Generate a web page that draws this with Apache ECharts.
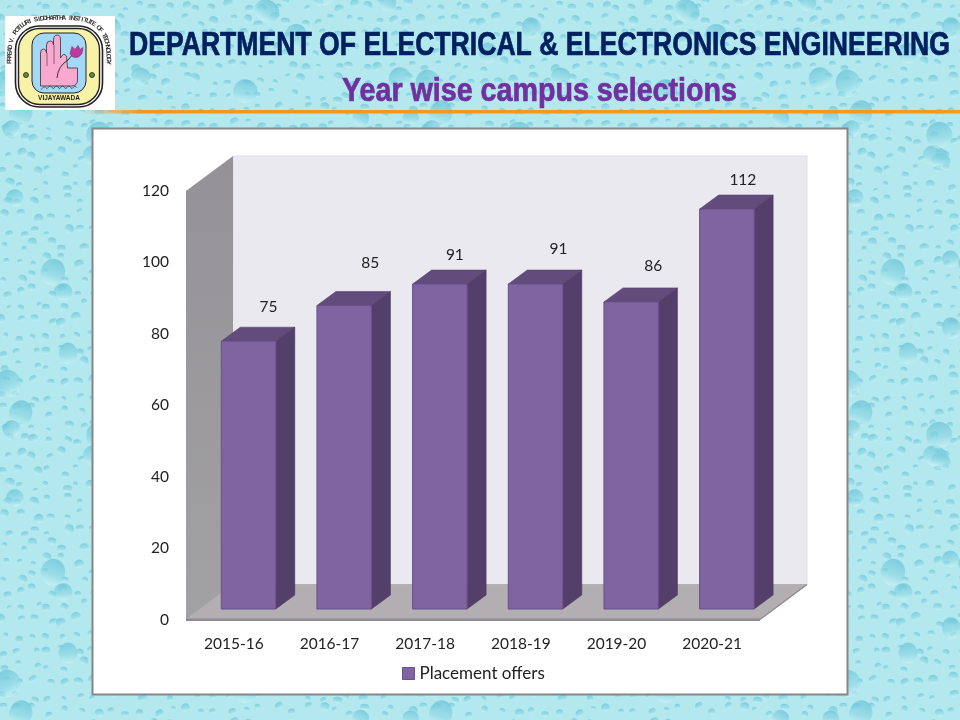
<!DOCTYPE html>
<html style="height: 100%">

<head>
    <meta charset="utf-8">
</head>

<body style="height: 100%; margin: 0">
    <div id="container" style="width: 960px; height: 720px"></div>
    <script type="text/javascript" src="https://cdn.jsdelivr.net/npm/echarts@6/dist/echarts.min.js"></script>

    <script type="text/javascript">
        var years = ['2015-16', '2016-17', '2017-18', '2018-19', '2019-20', '2020-21'];
        var offers = [75, 85, 91, 91, 86, 112];
        var seriesName = 'Placement offers';
        var heading = 'DEPARTMENT OF ELECTRICAL & ELECTRONICS ENGINEERING';
        var subheading = 'Year wise campus selections';
        var ringText = 'PRASAD V. POTLURI SIDDHARTHA INSTITUTE OF TECHNOLOGY';

        // the labels float unevenly above the bars in the original: [dx, dy] from the bar's front top
        var labelNudge = [[20, -34], [26, -42], [15, -29], [23, -35], [22, -36], [16, -29]];

        var FONT = 'Lato, sans-serif';
        var HEAD_FONT = '"Liberation Sans Narrow", "Liberation Sans", sans-serif';
        var WALL_DX = 47, WALL_DY = -35;   // how far the back wall sits behind the axis plane
        var BAR_DX = 14.7, BAR_DY = -10.5; // bar front inset from the axis plane
        var DEPTH_DX = 19, DEPTH_DY = -14; // bar depth
        var BAR_W = 54.5;

        // water drop texture for the slide background
        function dropTile() {
            var c = document.createElement('canvas');
            c.width = 420; c.height = 300;
            var ctx = c.getContext('2d');
            ctx.fillStyle = '#b3e8ee';
            ctx.fillRect(0, 0, c.width, c.height);
            function h(n) { var s = Math.sin(n * 12.9898) * 43758.5453; return s - Math.floor(s); }
            function drop(x, y, r, ratio, tilt) {
                [-c.width, 0, c.width].forEach(function (ox) {
                    [-c.height, 0, c.height].forEach(function (oy) {
                        ctx.save();
                        ctx.translate(x + ox, y + oy);
                        ctx.rotate(tilt);
                        ctx.scale(1, ratio);
                        var g = ctx.createLinearGradient(0, -r, 0, r);
                        g.addColorStop(0, 'rgba(105,195,215,0.75)');
                        g.addColorStop(0.6, 'rgba(135,212,226,0.55)');
                        g.addColorStop(1, 'rgba(215,247,248,0.5)');
                        ctx.fillStyle = g;
                        ctx.beginPath();
                        ctx.arc(0, 0, r, 0, Math.PI * 2);
                        ctx.fill();
                        ctx.restore();
                    });
                });
            }
            var n = 0;
            for (var gx = 0; gx < c.width; gx += 15) {
                for (var gy = 0; gy < c.height; gy += 15) {
                    n++;
                    drop(gx + h(n) * 10, gy + h(n + 3000) * 10, 2.5 + h(n + 6000) * 2.5, 0.65 + h(n + 8000) * 0.3, h(n + 9000) - 0.5);
                }
            }
            for (var i = 0; i < 34; i++) {
                drop(h(i + 11000) * c.width, h(i + 12000) * c.height, 8 + h(i + 13000) * 6, 0.8 + h(i + 14000) * 0.35, h(i + 15000) * 1.2 - 0.6);
            }
            return c;
        }

        // squeeze or stretch a headline so it spans the same width as the original
        function fitText(text, font, width) {
            var ctx = document.createElement('canvas').getContext('2d');
            ctx.font = font;
            return width / ctx.measureText(text).width;
        }

        function ringLetters() {
            // letters run round a squarish ring, left side up, over the top, right side down
            var cx = 59, cy = 64, a = 49.5, b = 46, p = 3;
            var pts = [], len = [0];
            for (var k = 0; k <= 600; k++) {
                var t = Math.PI * (1.0 + k / 600);
                var co = Math.cos(t), si = Math.sin(t);
                pts.push([
                    cx + a * (co < 0 ? -1 : 1) * Math.pow(Math.abs(co), 2 / p),
                    cy + b * (si < 0 ? -1 : 1) * Math.pow(Math.abs(si), 2 / p)
                ]);
                if (k > 0) {
                    len.push(len[k - 1] + Math.hypot(pts[k][0] - pts[k - 1][0], pts[k][1] - pts[k - 1][1]));
                }
            }
            var out = [], n = ringText.length, j = 1;
            for (var i = 0; i < n; i++) {
                var want = len[600] * (i + 0.5) / n;
                while (j < 600 && len[j] < want) { j++; }
                out.push({
                    type: 'text', x: pts[j][0], y: pts[j][1],
                    rotation: -Math.atan2(pts[j + 0][1] - pts[j - 1][1], pts[j + 0][0] - pts[j - 1][0]),
                    style: {
                        text: ringText[i], fill: '#333', align: 'center', verticalAlign: 'middle',
                        font: 'bold 6.5px "Liberation Sans Narrow", sans-serif'
                    }
                });
            }
            return out;
        }

        function renderLogo() {
            return {
                type: 'group',
                children: [
                    { type: 'rect', shape: { x: 5, y: 16, width: 110, height: 94 }, style: { fill: '#fff' } },
                    { type: 'rect', shape: { x: 15.5, y: 26, width: 87, height: 81, r: 24 }, style: { fill: '#fff', stroke: '#222', lineWidth: 1.6 } },
                    { type: 'rect', shape: { x: 18.5, y: 28.5, width: 81, height: 76, r: 21 }, style: { fill: '#f8f2a8', stroke: '#222', lineWidth: 1.4 } },
                    { type: 'rect', shape: { x: 32, y: 33, width: 54, height: 60, r: 12 }, style: { fill: '#a3d8f6', stroke: '#222', lineWidth: 1 } },
                    {
                        type: 'path',
                        shape: { pathData: 'M41 86 L41 53 Q41 49 44 49 Q47 49 47 53 L47 45 Q47 41 51 41 Q54 41 54 45 L54 40 Q54 35 58 35 Q61 35 61 40 L61 58 Q64 52 67 56 L68 68 L78 68 L78 80 Q78 86 72 86 Z', x: 40, y: 35, width: 38, height: 51 },
                        style: { fill: '#f9a8d0', stroke: '#333', lineWidth: 0.8 }
                    },
                    {
                        type: 'path',
                        shape: { pathData: 'M47 53 L47 66 M54 45 L54 64', x: 47, y: 45, width: 7, height: 21 },
                        style: { fill: 'none', stroke: '#333', lineWidth: 0.6 }
                    },
                    {
                        type: 'path',
                        shape: { pathData: 'M57 78 Q58 66 68 60 L73 54', x: 57, y: 54, width: 16, height: 24 },
                        style: { fill: 'none', stroke: '#222', lineWidth: 0.9 }
                    },
                    {
                        type: 'path',
                        shape: { pathData: 'M70 53 L72 46 L75 49 L78 45 L80 49 L83 47 L82 53 Q79 58 74 57 Q71 56 70 53 Z', x: 70, y: 45, width: 13, height: 13 },
                        style: { fill: '#c23a9e', stroke: '#5a2a5a', lineWidth: 0.5 }
                    },
                    {
                        type: 'path',
                        shape: { pathData: 'M41 90 q3 -5 6 -1 q3 -5 6 0 q3 -5 6 0 q3 -5 6 0 q3 -5 6 0 q3 -4 5 -1', x: 41, y: 85, width: 36, height: 6 },
                        style: { fill: 'none', stroke: '#333', lineWidth: 0.7 }
                    },
                    { type: 'circle', shape: { cx: 26, cy: 75, r: 2.5 }, style: { fill: '#5b8f3a', stroke: '#222', lineWidth: 0.8 } },
                    { type: 'circle', shape: { cx: 92, cy: 75, r: 2.5 }, style: { fill: '#5b8f3a', stroke: '#222', lineWidth: 0.8 } },
                    {
                        type: 'text', x: 59, y: 98,
                        style: { text: 'VIJAYAWADA', fill: '#222', align: 'center', verticalAlign: 'middle', font: 'bold 6.5px "Liberation Sans", sans-serif' }
                    }
                ].concat(ringLetters())
            };
        }

        function headline(text, font, x, y, width, fill) {
            return {
                type: 'text', z: 1, x: x, y: y, scaleX: fitText(text, font, width),
                style: { text: text, font: font, fill: fill, stroke: fill, lineWidth: 0.7, verticalAlign: 'middle' }
            };
        }

        function renderRoom(params, api) {
            var r = params.coordSys;
            var x0 = r.x, x1 = r.x + r.width, top = r.y, base = r.y + r.height;
            return {
                type: 'group',
                children: [
                    {
                        type: 'rect',
                        shape: { x: x0 + WALL_DX, y: top + WALL_DY, width: r.width, height: r.height },
                        style: { fill: '#ebe9f0', stroke: '#e2e0e7', lineWidth: 1 }
                    },
                    {
                        type: 'polygon',
                        shape: { points: [[x0, top], [x0 + WALL_DX, top + WALL_DY], [x0 + WALL_DX, base + WALL_DY], [x0, base]] },
                        style: {
                            fill: new echarts.graphic.LinearGradient(0, 0, 0, 1, [
                                { offset: 0, color: '#949296' }, { offset: 1, color: '#a2a1a3' }
                            ])
                        }
                    },
                    {
                        type: 'polygon',
                        shape: { points: [[x0, base], [x0 + WALL_DX, base + WALL_DY], [x1 + WALL_DX, base + WALL_DY], [x1, base]] },
                        style: { fill: '#b2aeb2', stroke: '#a5a1a5', lineWidth: 0.6 }
                    },
                    {
                        type: 'line',
                        shape: { x1: x1, y1: base, x2: x1 + WALL_DX, y2: base + WALL_DY },
                        style: { stroke: '#8e8a8e', lineWidth: 1.2 }
                    },
                    {
                        type: 'rect',
                        shape: { x: x0, y: base - 1, width: r.width, height: 2.5 },
                        style: { fill: '#8e8a8e' }
                    }
                ]
            };
        }

        function renderBar(params, api) {
            var i = api.value(0), v = api.value(1);
            var topPt = api.coord([i, v]), basePt = api.coord([i, 0]);
            var left = topPt[0] + BAR_DX - BAR_W / 2, right = left + BAR_W;
            var top = topPt[1] + BAR_DY, base = basePt[1] + BAR_DY;
            var nudge = labelNudge[i];
            return {
                type: 'group',
                children: [
                    {
                        type: 'polygon',
                        shape: { points: [[left, top], [left + DEPTH_DX, top + DEPTH_DY], [right + DEPTH_DX, top + DEPTH_DY], [right, top]] },
                        style: { fill: '#624c7c', stroke: '#594472', lineWidth: 0.6 }
                    },
                    {
                        type: 'polygon',
                        shape: { points: [[right, top], [right + DEPTH_DX, top + DEPTH_DY], [right + DEPTH_DX, base + DEPTH_DY], [right, base]] },
                        style: { fill: '#533f69', stroke: '#4f3c64', lineWidth: 0.6 }
                    },
                    {
                        type: 'rect',
                        shape: { x: left, y: top, width: BAR_W, height: base - top },
                        style: { fill: '#8063a1', stroke: '#6a4f8a', lineWidth: 1 }
                    },
                    {
                        type: 'text',
                        x: left + BAR_W / 2 + nudge[0],
                        y: top + nudge[1],
                        style: {
                            text: String(v), fill: '#222', align: 'center', verticalAlign: 'middle',
                            font: '15.5px ' + FONT
                        }
                    }
                ]
            };
        }

        var dom = document.getElementById('container');
        var myChart = echarts.init(dom, null, { width: 960, height: 720 });

        var option = {
            animation: false,
            backgroundColor: { image: dropTile(), repeat: 'repeat' },
            grid: { left: 186, top: 191, width: 574, height: 428.5, containLabel: false },
            legend: {
                data: [{ name: seriesName, icon: 'rect' }],
                left: 402, top: 665, padding: 0, itemWidth: 12, itemHeight: 12, itemStyle: { borderWidth: 1 },
                textStyle: { fontFamily: FONT, fontSize: 17, color: '#222' }
            },
            xAxis: {
                type: 'category', data: years,
                axisLine: { show: false }, axisTick: { show: false }, splitLine: { show: false },
                axisLabel: { margin: 16, fontFamily: FONT, fontSize: 15.5, color: '#222' }
            },
            yAxis: {
                type: 'value', min: 0, max: 120, interval: 20,
                axisLine: { show: false }, axisTick: { show: false }, splitLine: { show: false },
                axisLabel: { margin: 17, fontFamily: FONT, fontSize: 15.5, color: '#222' }
            },
            graphic: {
                elements: [
                    {
                        type: 'rect', z: 0,
                        shape: { x: 0, y: 110, width: 960, height: 3.5 },
                        style: {
                            fill: new echarts.graphic.LinearGradient(0, 0, 1, 0, [
                                { offset: 0.085, color: 'rgba(243,150,30,0)' },
                                { offset: 0.15, color: '#f0981f' },
                                { offset: 1, color: '#f39a1c' }
                            ])
                        }
                    },
                    {
                        type: 'rect', z: 0,
                        shape: { x: 92.5, y: 128.5, width: 755, height: 566 },
                        style: { fill: '#fff', stroke: '#868686', lineWidth: 2 }
                    },
                    headline(heading, 'bold 33px ' + HEAD_FONT, 129, 46, 821, '#002060'),
                    headline(subheading, 'bold 33px ' + HEAD_FONT, 342, 92, 395, '#7030a0')
                ]
            },
            series: [
                {
                    name: 'logo', type: 'custom', coordinateSystem: 'none', data: [[0]], clip: false, z: 3,
                    silent: true, renderItem: renderLogo
                },
                {
                    name: 'room', type: 'custom', data: [[0, 0]], clip: false, z: 1,
                    encode: { x: 0, y: 1 }, silent: true, renderItem: renderRoom
                },
                {
                    name: seriesName, type: 'custom', clip: false, z: 2,
                    itemStyle: { color: '#8063a1', borderColor: '#6a4f8a', borderWidth: 1 },
                    encode: { x: 0, y: 1 },
                    data: years.map(function (y, i) { return [i, offers[i]]; }),
                    renderItem: renderBar
                }
            ]
        };

        myChart.setOption(option);
    </script>
</body>

</html>
